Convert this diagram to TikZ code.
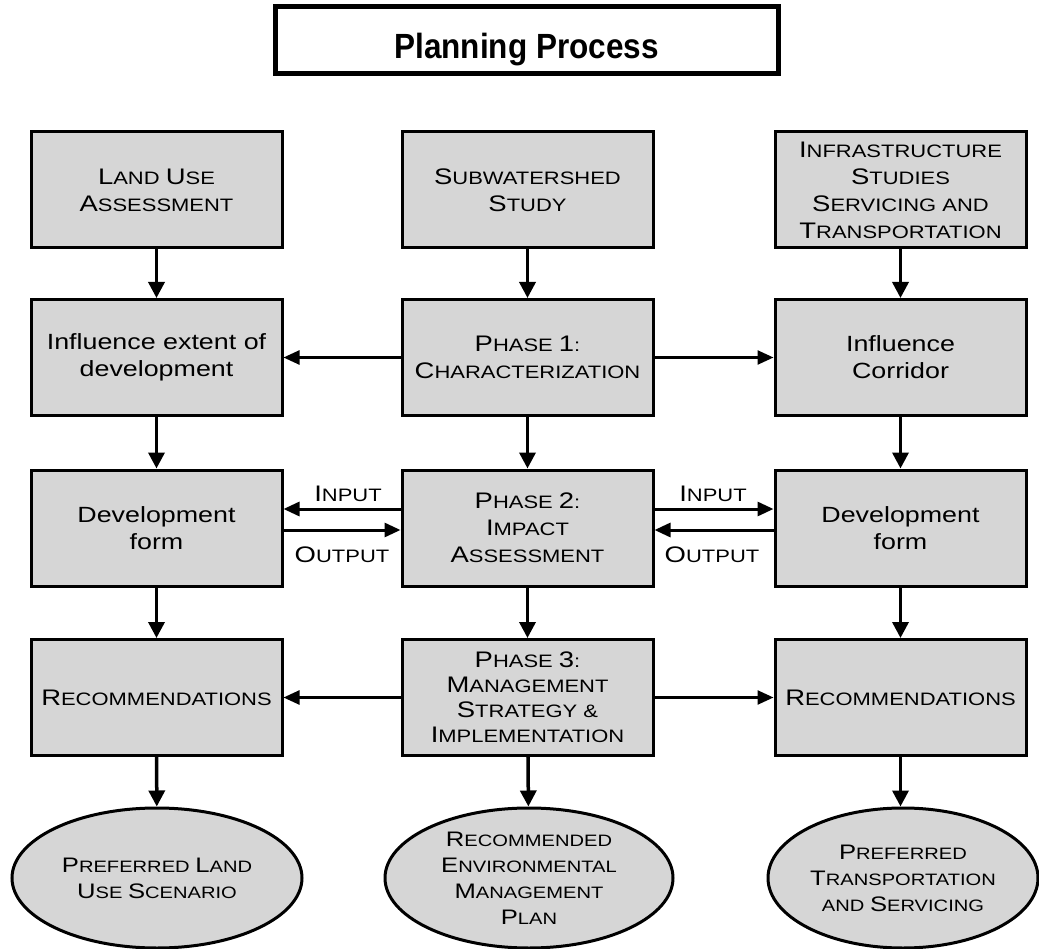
\documentclass[tikz,border=0pt]{standalone}
\usepackage{fontspec}
\setmainfont{Liberation Sans}[FakeStretch=1.22]
\newfontfamily\titlefont{Liberation Sans}[FakeStretch=0.9]
\usetikzlibrary{arrows.meta,shapes.geometric}
\definecolor{boxgray}{RGB}{214,214,214}
\newcommand\BI[1]{{\fontsize{22.5}{27}\selectfont #1}}
\newcommand\EI[1]{{\fontsize{21}{26}\selectfont #1}}
\begin{document}
\begin{tikzpicture}[x=1pt,y=-1pt,
 box/.style={draw,line width=3pt,fill=boxgray,minimum width=251pt,minimum height=116pt,inner sep=0pt,align=center,font=\fontsize{18}{27}\selectfont},
 mixbox/.style={box,font=\fontsize{22}{27}\selectfont},
 oval/.style={ellipse,draw,line width=3pt,fill=boxgray,minimum width=290pt,minimum height=140pt,inner sep=0pt,align=center,font=\fontsize{16.5}{26}\selectfont},
 varr/.style={line width=3.5pt,-{Triangle[length=16pt,width=16pt]}},
 harr/.style={line width=2.5pt,-{Triangle[length=16pt,width=14pt]}},
 iarr/.style={line width=3pt,-{Triangle[length=16pt,width=14pt]}},
 lbl/.style={font=\fontsize{18}{20}\selectfont,inner sep=0pt}]
\useasboundingbox[fill=white] (0,0) rectangle (1039,949);

\node[draw,line width=5pt,minimum width=503pt,minimum height=67pt,inner sep=0pt,
  text height=43pt,text depth=7pt,
  font=\titlefont\bfseries\fontsize{35}{40}\selectfont] (title) at (526.5,40.5) {Planning Process};

% row 1
\node[box] (l1) at (156.5,190) {\BI{L}AND \BI{U}SE\\\BI{A}SSESSMENT};
\node[box] (c1) at (527.5,190) {\BI{S}UBWATERSHED\\\BI{S}TUDY};
\node[box] (r1) at (900.5,190) {\BI{I}NFRASTRUCTURE\\\BI{S}TUDIES\\\BI{S}ERVICING AND\\\BI{T}RANSPORTATION};
% row 2
\node[mixbox] (l2) at (156.5,357.5) {Influence extent of\\development};
\node[box] (c2) at (527.5,357.5) {\BI{P}HASE \BI{1}:\\\BI{C}HARACTERIZATION};
\node[mixbox] (r2) at (900.5,357.5) {Influence\\Corridor};
% row 3
\node[mixbox] (l3) at (156.5,528) {Development\\form};
\node[box] (c3) at (527.5,528) {\BI{P}HASE \BI{2}:\\\BI{I}MPACT\\\BI{A}SSESSMENT};
\node[mixbox] (r3) at (900.5,528) {Development\\form};
% row 4
\node[box] (l4) at (156.5,697.5) {\BI{R}ECOMMENDATIONS};
\node[box,font=\fontsize{18}{25}\selectfont] (c4) at (527.5,697.5) {\BI{P}HASE \BI{3}:\\\BI{M}ANAGEMENT\\\BI{S}TRATEGY \&\\\BI{I}MPLEMENTATION};
\node[box] (r4) at (900.5,697.5) {\BI{R}ECOMMENDATIONS};
% ellipses
\node[oval] (le) at (157,878) {\EI{P}REFERRED \EI{L}AND\\\EI{U}SE \EI{S}CENARIO};
\node[oval,minimum width=288pt] (ce) at (529,878) {\EI{R}ECOMMENDED\\\EI{E}NVIRONMENTAL\\\EI{M}ANAGEMENT\\\EI{P}LAN};
\node[oval,minimum width=270pt] (re) at (903,878) {\EI{P}REFERRED\\\EI{T}RANSPORTATION\\AND \EI{S}ERVICING};

% vertical arrows
\draw[varr] (l1) -- (l2);
\draw[varr] (l2) -- (l3);
\draw[varr] (l3) -- (l4);
\draw[varr] (l4) -- (le);
\draw[varr] (c1) -- (c2);
\draw[varr] (c2) -- (c3);
\draw[varr] (c3) -- (c4);
\draw[varr] (c4) -- (ce);
\draw[varr] (r1) -- (r2);
\draw[varr] (r2) -- (r3);
\draw[varr] (r3) -- (r4);
\draw[varr] (r4.south) -- (re.north -| r4);

% horizontal arrows
\draw[harr] (c2) -- (l2);
\draw[harr] (c2) -- (r2);
\draw[harr] (c4) -- (l4);
\draw[harr] (c4) -- (r4);

% input / output
\draw[iarr] ([yshift=19pt]c3.west) -- ([yshift=19pt]l3.east);
\draw[iarr] ([yshift=-2pt]l3.east) -- ([yshift=-2pt]c3.west);
\draw[iarr] ([yshift=19pt]c3.east) -- ([yshift=19pt]r3.west);
\draw[iarr] ([yshift=-2pt]r3.west) -- ([yshift=-2pt]c3.east);
\node[lbl] (inl) at (348,494) {\BI{I}NPUT};
\node[lbl] (outl) at (342,555) {\BI{O}UTPUT};
\node[lbl] (inr) at (713,494) {\BI{I}NPUT};
\node[lbl] (outr) at (712,555) {\BI{O}UTPUT};
\end{tikzpicture}
\end{document}
